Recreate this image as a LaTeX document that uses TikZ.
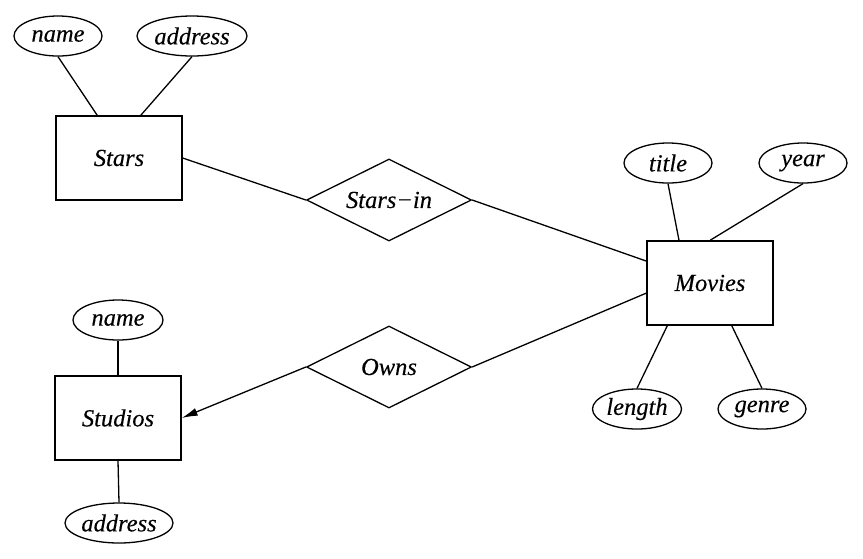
\documentclass[tikz,border=0pt]{standalone}
\usepackage{fontspec}
\setmainfont{Liberation Serif}
\newfontfamily\erfont{Liberation Serif}[ItalicFeatures={FakeBold=0.25}]
\usetikzlibrary{shapes.geometric,arrows.meta}
\begin{document}
\begin{tikzpicture}[x=1pt,y=-1pt,line width=1.3pt,
  every node/.style={font=\fontsize{24.5}{28}\erfont\itshape, inner sep=0pt},
  ent/.style={draw, rectangle, minimum width=126pt, minimum height=84pt},
  attr/.style={draw, ellipse, minimum height=40pt},
  rel/.style={draw, diamond, aspect=2, minimum width=165pt, minimum height=82pt},
  tip/.style={-{Latex[length=16pt,width=8pt]}}]
\useasboundingbox (0,0) rectangle (863,558);
% entities
\node[ent] (stars) at (119,158) {Stars};
\node[ent] (movies) at (710,283) {Movies};
\node[ent] (studios) at (118,418) {Studios};
% relationships
\node[rel] (starsin) at (389,200) {Stars−in};
\node[rel] (owns) at (389,367) {Owns};
% attributes
\node[attr, minimum width=88pt] (sname) at (58,36) {name};
\node[attr, minimum width=110pt] (saddr) at (192,36) {address};
\node[attr, minimum width=88pt] (title) at (668,163) {title};
\node[attr, minimum width=88pt] (year) at (803,163) {year};
\node[attr, minimum width=89pt] (length) at (637,409) {length};
\node[attr, minimum width=88pt] (genre) at (762,409) {genre};
\node[attr, minimum width=90pt] (stname) at (118,320) {name};
\node[attr, minimum width=108pt] (staddr) at (119,523) {address};
% connectors
\draw (sname.south) -- (stars.117);
\draw (saddr.south) -- (stars.63);
\draw (stars.east) -- (starsin.west);
\draw (starsin.east) -- (movies.161);
\draw (title.south) -- (movies.126);
\draw (year.south) -- (movies.north);
\draw (movies.225) -- (length.north);
\draw (movies.297) -- (genre.north);
\draw (movies.189) -- (owns.east);
\draw[tip] (owns.west) -- (studios.east);
\draw (stname.south) -- (studios.north);
\draw (studios.south) -- (staddr.north);
\end{tikzpicture}
\end{document}
